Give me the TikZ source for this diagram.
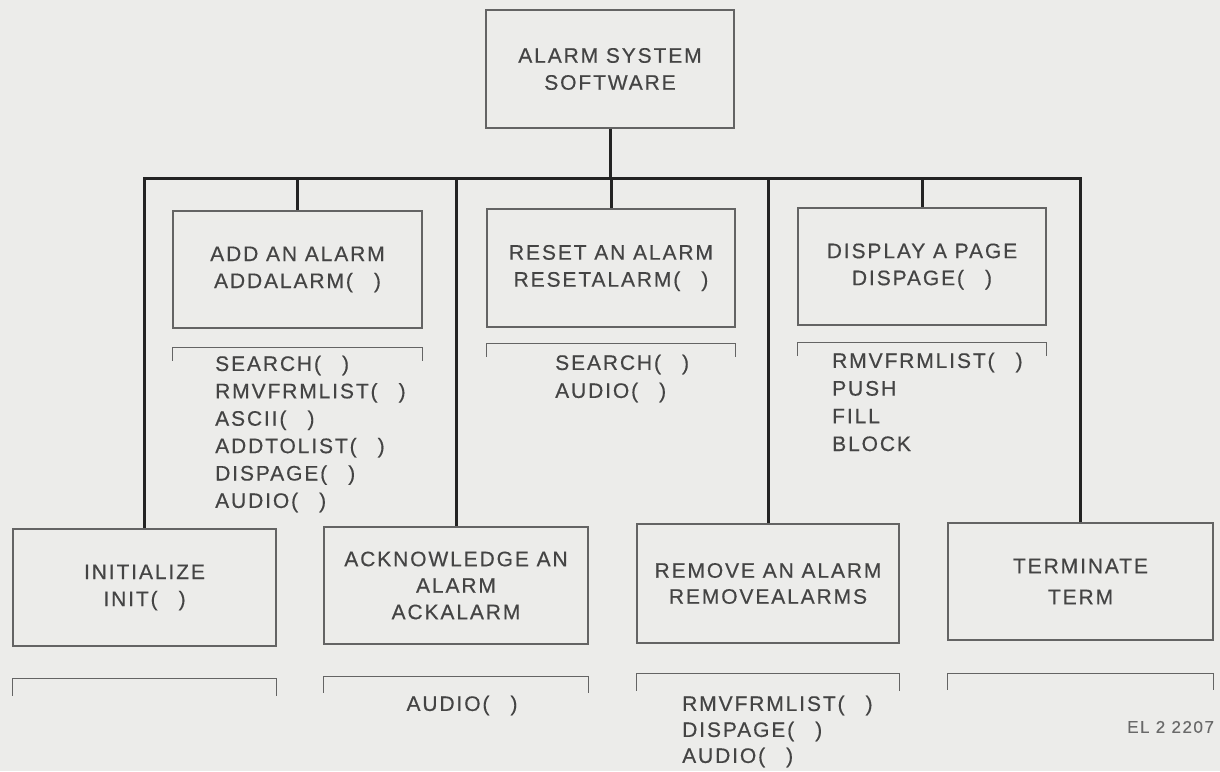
\documentclass[tikz,border=0pt]{standalone}
\usepackage{fontspec}
\setmainfont{Liberation Sans}[LetterSpace=9, FakeBold=0.4]
\usetikzlibrary{calc}
\definecolor{bgc}{RGB}{236,236,234}
\definecolor{txt}{RGB}{68,68,68}
\definecolor{boxc}{RGB}{100,100,100}
\definecolor{conc}{RGB}{35,35,35}
\newcommand\ep{(\hspace{1em})}
\newcommand\drawbracket[3]{\draw[brk] ($(#1.south west)+(0,#2+#3)$) -- ++(0,-#3) -- ($(#1.south east)+(0,#2)$) -- ++(0,#3);}
\begin{document}
\begin{tikzpicture}[x=1pt,y=-1pt,
  lbl/.style={font=\fontsize{21}{27}\selectfont, text=txt},
  box/.style={lbl, draw=boxc, line width=1.3pt, align=center, inner sep=0pt},
  conn/.style={draw=conc, line width=3pt, line join=miter},
  brk/.style={draw=boxc, line width=1.3pt},
  lst/.style={text=txt, align=left, anchor=north west, inner sep=0pt}]
\useasboundingbox (0,0) rectangle (1220,771);
\fill[bgc] (0,0) rectangle (1220,771);

% boxes
\node[box, minimum width=248pt, minimum height=118pt] (top) at (610,69) {ALARM SYSTEM\\SOFTWARE};
\node[box, minimum width=249pt, minimum height=117pt] (add) at (297.5,269.5) {ADD AN ALARM\\ADDALARM\ep};
\node[box, minimum width=248pt, minimum height=118pt] (reset) at (611,268) {RESET AN ALARM\\RESETALARM\ep};
\node[box, minimum width=248pt, minimum height=117pt] (disp) at (922,266.5) {DISPLAY A PAGE\\DISPAGE\ep};
\node[box, minimum width=263pt, minimum height=117pt] (init) at (144.5,587.5) {INITIALIZE\\INIT\ep};
\node[box, minimum width=264pt, minimum height=117pt, font=\fontsize{21}{26.5}\selectfont] (ack) at (456,585.5) {ACKNOWLEDGE AN\\ALARM\\ACKALARM};
\node[box, minimum width=262pt, minimum height=119pt, font=\fontsize{21}{26}\selectfont] (remove) at (768,583.5) {REMOVE AN ALARM\\REMOVEALARMS};
\node[box, minimum width=265pt, minimum height=117pt, font=\fontsize{21}{31}\selectfont] (term) at (1080.5,581.5) {TERMINATE\\TERM};

% connectors
\coordinate (bus) at (610,178);
\draw[conn] (top.south) -- (top.south |- bus);
\draw[conn] (init.north) -- (init.north |- bus) -- (term.north |- bus) -- (term.north);
\draw[conn] (add.north |- bus) -- (add.north);
\draw[conn] (reset.north |- bus) -- (reset.north);
\draw[conn] (disp.north |- bus) -- (disp.north);
\draw[conn] (ack.north |- bus) -- (ack.north);
\draw[conn] (remove.north |- bus) -- (remove.north);

% brackets
\drawbracket{add}{19}{13}
\drawbracket{reset}{16}{13}
\drawbracket{disp}{17}{13}
\drawbracket{init}{32}{17}
\drawbracket{ack}{32}{16}
\drawbracket{remove}{30}{17}
\drawbracket{term}{33}{16}

% lists
\node[lst, font=\fontsize{21}{27.4}\selectfont] (addlist) at (215,355.5)
  {SEARCH\ep\\RMVFRMLIST\ep\\ASCII\ep\\ADDTOLIST\ep\\DISPAGE\ep\\AUDIO\ep};
\node[lst, font=\fontsize{21}{28}\selectfont] (resetlist) at (555,354.5)
  {SEARCH\ep\\AUDIO\ep};
\node[lst, font=\fontsize{21}{27.7}\selectfont] (displist) at (832,352.5)
  {RMVFRMLIST\ep\\PUSH\\FILL\\BLOCK};
\node[lst, anchor=north, font=\fontsize{21}{27}\selectfont] (acklist) at (462,695.5)
  {AUDIO\ep};
\node[lst, font=\fontsize{21}{26}\selectfont] (removelist) at (682,695.5)
  {RMVFRMLIST\ep\\DISPAGE\ep\\AUDIO\ep};
\node[anchor=west, inner sep=0pt, text=txt!80, font=\fontsize{17}{20}\selectfont] (fig) at (1127,727) {EL 2 2207};
\end{tikzpicture}
\end{document}
